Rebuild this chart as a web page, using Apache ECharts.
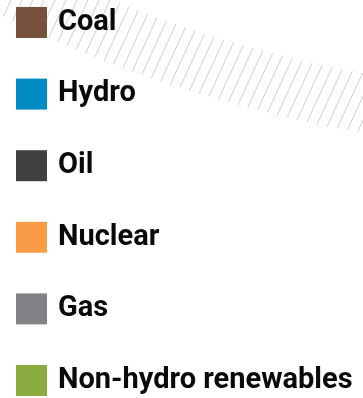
<!DOCTYPE html>
<html>
<head>
<meta charset="utf-8">
<script src="https://cdn.jsdelivr.net/npm/echarts@6/dist/echarts.min.js"></script>
<style>
  html, body { margin: 0; padding: 0; background: #fff; }
  #chart { width: 363px; height: 398px; }
</style>
</head>
<body>
<div id="chart"></div>
<script>
// Energy sources shown in the key, with their colours
const sources = ['Coal', 'Hydro', 'Oil', 'Nuclear', 'Gas', 'Non-hydro renewables'];
const sourceColors = ['#76503c', '#008cc0', '#414143', '#f99c45', '#818285', '#8aab3d'];

// Diagonal hatch tile for the decorative arc band
function hatchTile() {
  const w = 11, h = 24;
  const c = document.createElement('canvas');
  c.width = w; c.height = h;
  const ctx = c.getContext('2d');
  ctx.strokeStyle = '#cfcfcf';
  ctx.lineWidth = 1;
  for (let k = -1; k <= 1; k++) {
    ctx.beginPath();
    ctx.moveTo(k * w, h);
    ctx.lineTo(k * w + w, 0);
    ctx.stroke();
  }
  return c;
}

const chart = echarts.init(document.getElementById('chart'));

chart.setOption({
  animation: false,
  grid: { show: false, left: 0, right: 0, top: 0, bottom: 0 },
  xAxis: { type: 'category', show: false, data: [] },
  yAxis: { type: 'value', show: false },
  legend: {
    orient: 'vertical',
    left: 16,
    top: 7,
    height: 398,
    padding: 0,
    icon: 'rect',
    itemWidth: 31,
    itemHeight: 31,
    itemGap: 40.6,
    data: sources,
    textStyle: {
      fontFamily: 'Roboto',
      fontWeight: 'bold',
      fontSize: 29,
      lineHeight: 21,
      padding: [10, 0, 0, 6],
      width: 300,
      color: '#0a0a0a'
    }
  },
  graphic: [{
    type: 'sector',
    z: -1,
    silent: true,
    shape: {
      cx: 600, cy: -1210,
      r0: 1305, r: 1364,
      startAngle: 60 * Math.PI / 180,
      endAngle: 130 * Math.PI / 180,
      clockwise: true
    },
    style: {
      fill: { image: hatchTile(), repeat: 'repeat' }
    }
  }],
  series: sources.map((name, i) => ({
    name: name,
    type: 'bar',
    data: [],
    itemStyle: { color: sourceColors[i] }
  }))
});
</script>
</body>
</html>
